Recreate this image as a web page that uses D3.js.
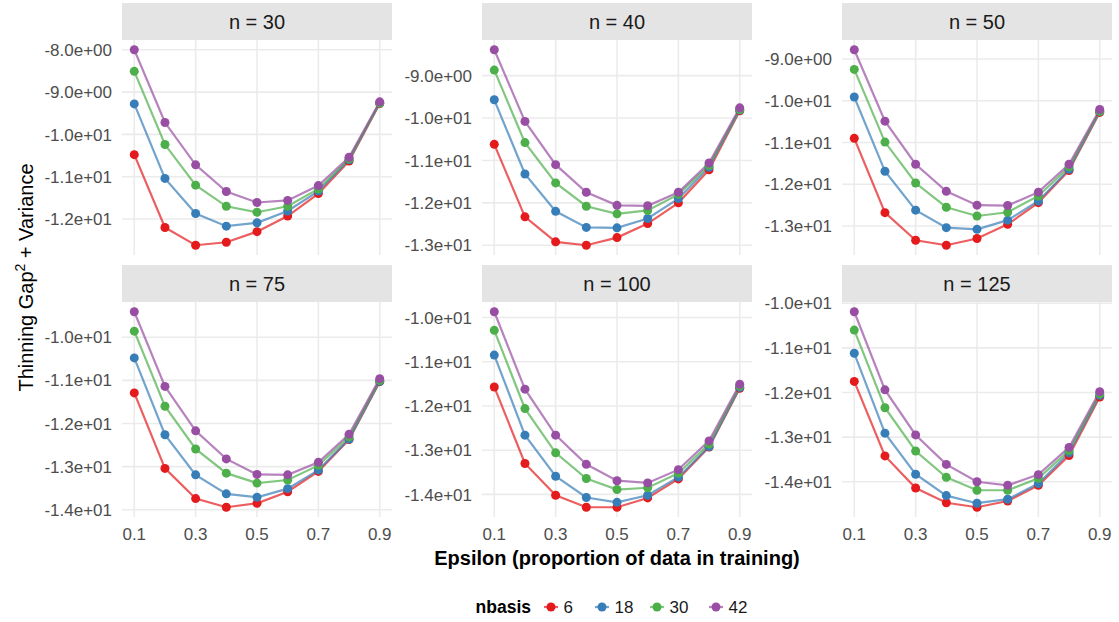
<!doctype html>
<html lang="en">
<head>
  <meta charset="utf-8">
  <script src="https://d3js.org/d3.v7.min.js"></script>
  <style>
    body { margin: 0; background: #fff; }
    text { font-family: "Liberation Sans", Arial, sans-serif; }
  </style>
</head>
<body>
  <script>
    // epsilon values on the x axis
    var epsilon = [0.1, 0.2, 0.3, 0.4, 0.5, 0.6, 0.7, 0.8, 0.9];
    var xTicks = [0.1, 0.3, 0.5, 0.7, 0.9];
    var nbasis = [6, 18, 30, 42];
    var sampleSizes = [30, 40, 50, 75, 100, 125];
    var colors = ["#E41A1C", "#377EB8", "#4DAF4A", "#984EA3"];

    // thinning gap^2 + variance, one row per nbasis (6, 18, 30, 42)
    var gap_n30 = [
      [-10.48, -12.20, -12.62, -12.55, -12.30, -11.93, -11.40, -10.63, -9.27],
      [-9.28, -11.04, -11.87, -12.17, -12.09, -11.81, -11.34, -10.60, -9.26],
      [-8.51, -10.24, -11.20, -11.70, -11.84, -11.70, -11.29, -10.58, -9.26],
      [-8.00, -9.72, -10.72, -11.35, -11.61, -11.56, -11.21, -10.54, -9.23]
    ];
    var gap_n40 = [
      [-10.62, -12.33, -12.92, -13.00, -12.82, -12.49, -12.00, -11.22, -9.83],
      [-9.57, -11.32, -12.20, -12.58, -12.59, -12.37, -11.90, -11.16, -9.81],
      [-8.87, -10.58, -11.53, -12.08, -12.26, -12.18, -11.80, -11.12, -9.80],
      [-8.39, -10.08, -11.10, -11.75, -12.06, -12.07, -11.75, -11.06, -9.76]
    ];
    var gap_n50 = [
      [-10.90, -12.68, -13.34, -13.46, -13.30, -12.96, -12.44, -11.67, -10.28],
      [-9.91, -11.69, -12.62, -13.04, -13.08, -12.86, -12.40, -11.64, -10.26],
      [-9.25, -10.99, -11.97, -12.55, -12.76, -12.67, -12.28, -11.58, -10.25],
      [-8.78, -10.49, -11.52, -12.17, -12.50, -12.51, -12.19, -11.52, -10.21]
    ];
    var gap_n75 = [
      [-11.29, -13.04, -13.74, -13.94, -13.85, -13.58, -13.11, -12.37, -11.03],
      [-10.48, -12.26, -13.19, -13.63, -13.71, -13.51, -13.08, -12.36, -11.02],
      [-9.86, -11.60, -12.59, -13.15, -13.38, -13.31, -12.97, -12.31, -11.00],
      [-9.41, -11.14, -12.17, -12.82, -13.18, -13.19, -12.90, -12.25, -10.96]
    ];
    var gap_n100 = [
      [-11.57, -13.30, -14.02, -14.29, -14.29, -14.08, -13.65, -12.93, -11.60],
      [-10.85, -12.66, -13.59, -14.07, -14.18, -14.02, -13.61, -12.92, -11.58],
      [-10.29, -12.06, -13.06, -13.64, -13.89, -13.85, -13.52, -12.86, -11.55],
      [-9.87, -11.62, -12.66, -13.32, -13.69, -13.74, -13.44, -12.79, -11.51]
    ];
    var gap_n125 = [
      [-11.75, -13.42, -14.14, -14.47, -14.57, -14.43, -14.08, -13.41, -12.10],
      [-11.12, -12.91, -13.83, -14.31, -14.48, -14.39, -14.04, -13.35, -12.06],
      [-10.60, -12.34, -13.31, -13.90, -14.19, -14.19, -13.92, -13.30, -12.03],
      [-10.19, -11.94, -12.95, -13.61, -14.00, -14.08, -13.84, -13.23, -11.98]
    ];
    var panelData = [gap_n30, gap_n40, gap_n50, gap_n75, gap_n100, gap_n125];

    var width = 1119, height = 622;
    var panelW = 270, panelH = 215, stripH = 37;
    var colLeft = [122, 482, 842];
    var rowTop = [40, 302];

    var svg = d3.select("body").append("svg")
        .attr("width", width)
        .attr("height", height);

    // x scale is shared, 5% expansion like ggplot
    var x = d3.scaleLinear()
        .domain([0.1 - 0.04, 0.9 + 0.04])
        .range([0, panelW]);

    function sci(v) {
      var s = v.toExponential(1);
      return s.replace(/e([+-])(\d)$/, "e$10$2");
    }

    sampleSizes.forEach(function(n, i) {
      var col = i % 3, row = Math.floor(i / 3);
      var data = panelData[i];
      var all = d3.merge(data);
      var lo = d3.min(all), hi = d3.max(all), pad = (hi - lo) * 0.05;
      var y = d3.scaleLinear().domain([lo - pad, hi + pad]).range([panelH, 0]);

      var g = svg.append("g")
          .attr("transform", "translate(" + colLeft[col] + "," + rowTop[row] + ")");

      // strip
      g.append("rect")
          .attr("x", 0).attr("y", -stripH)
          .attr("width", panelW).attr("height", stripH)
          .attr("fill", "#e4e4e4");
      g.append("text")
          .attr("x", panelW / 2).attr("y", -stripH / 2)
          .attr("dy", "0.36em")
          .attr("text-anchor", "middle")
          .attr("font-size", 20)
          .attr("fill", "#1a1a1a")
          .text("n = " + n);

      // grid
      var yTicks = d3.range(Math.ceil(y.domain()[0]), Math.floor(y.domain()[1]) + 1);
      g.selectAll(".hgrid").data(yTicks).enter().append("line")
          .attr("x1", 0).attr("x2", panelW)
          .attr("y1", function(d) { return y(d); })
          .attr("y2", function(d) { return y(d); })
          .attr("stroke", "#ebebeb").attr("stroke-width", 1.6);
      g.selectAll(".vgrid").data(xTicks).enter().append("line")
          .attr("y1", 0).attr("y2", panelH)
          .attr("x1", function(d) { return x(d); })
          .attr("x2", function(d) { return x(d); })
          .attr("stroke", "#ebebeb").attr("stroke-width", 1.6);

      // y axis labels
      g.selectAll(".ylab").data(yTicks).enter().append("text")
          .attr("x", -10)
          .attr("y", function(d) { return y(d); })
          .attr("dy", "0.36em")
          .attr("text-anchor", "end")
          .attr("font-size", 17)
          .attr("fill", "#4d4d4d")
          .text(sci);

      // x axis labels only for bottom row
      if (row === 1) {
        g.selectAll(".xlab").data(xTicks).enter().append("text")
            .attr("x", function(d) { return x(d); })
            .attr("y", panelH + 16.5)
            .attr("dy", "0.36em")
            .attr("text-anchor", "middle")
            .attr("font-size", 17)
            .attr("fill", "#4d4d4d")
            .text(function(d) { return d3.format(".1f")(d); });
      }

      var line = d3.line()
          .x(function(d, j) { return x(epsilon[j]); })
          .y(function(d) { return y(d); });

      data.forEach(function(series, k) {
        g.append("path")
            .attr("d", line(series))
            .attr("fill", "none")
            .attr("stroke", colors[k])
            .attr("stroke-opacity", 0.7)
            .attr("stroke-width", 2.2);
      });
      data.forEach(function(series, k) {
        g.selectAll(".pt" + k).data(series).enter().append("circle")
            .attr("cx", function(d, j) { return x(epsilon[j]); })
            .attr("cy", function(d) { return y(d); })
            .attr("r", 4.5)
            .attr("fill", colors[k]);
      });
    });

    // axis titles
    svg.append("text")
        .attr("x", 617).attr("y", 558)
        .attr("dy", "0.36em")
        .attr("text-anchor", "middle")
        .attr("font-size", 20)
        .attr("font-weight", "bold")
        .text("Epsilon (proportion of data in training)");

    var yt = svg.append("text")
        .attr("transform", "translate(33,277.5) rotate(-90)")
        .attr("text-anchor", "middle")
        .attr("font-size", 20);
    yt.append("tspan").text("Thinning Gap");
    yt.append("tspan").attr("dy", -8).attr("font-size", 14).text("2");
    yt.append("tspan").attr("dy", 8).text(" + Variance");

    // legend
    var legend = svg.append("g").attr("transform", "translate(0,607)");
    legend.append("text")
        .attr("x", 531).attr("dy", "0.36em")
        .attr("text-anchor", "end")
        .attr("font-size", 17.5)
        .attr("font-weight", "bold")
        .text("nbasis");
    var keyX = [551, 602, 657, 716];
    nbasis.forEach(function(b, k) {
      var kg = legend.append("g").attr("transform", "translate(" + keyX[k] + ",0)");
      kg.append("line")
          .attr("x1", -7).attr("x2", 7)
          .attr("stroke", colors[k]).attr("stroke-opacity", 0.7)
          .attr("stroke-width", 2.2);
      kg.append("circle").attr("r", 4.5).attr("fill", colors[k]);
      kg.append("text")
          .attr("x", 12.5).attr("dy", "0.36em")
          .attr("font-size", 17)
          .attr("fill", "#1a1a1a")
          .text(b);
    });
  </script>
</body>
</html>
